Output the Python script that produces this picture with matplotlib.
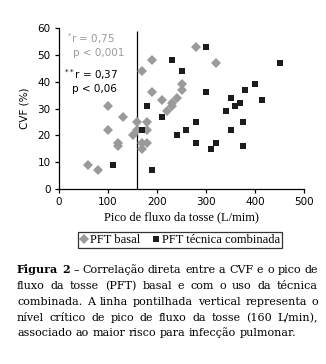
import matplotlib
matplotlib.use("Agg")
import matplotlib.pyplot as plt
from matplotlib.lines import Line2D
from matplotlib.font_manager import FontProperties

# Peak cough flow (L/min) vs. FVC (%)
pft_basal_x = [60, 80, 100, 100, 120, 120, 130, 150, 160, 160, 170, 170, 180, 180, 180,
               170, 190, 190, 210, 220, 230, 230, 240, 250, 250, 280, 320]
pft_basal_y = [9, 7, 31, 22, 17, 16, 27, 20, 25, 22, 17, 15, 22, 25, 17,
               44, 48, 36, 33, 29, 31, 32, 34, 37, 39, 53, 47]

pft_comb_x = [110, 180, 170, 190, 210, 230, 250, 240, 260, 280, 280, 300, 300, 310,
              320, 340, 350, 350, 360, 370, 380, 380, 375, 375, 400, 415, 450]
pft_comb_y = [9, 31, 22, 7, 27, 48, 44, 20, 22, 25, 17, 53, 36, 15,
              17, 29, 34, 22, 31, 32, 37, 37, 25, 16, 39, 33, 47]

x_ticks = [0, 100, 200, 300, 400, 500]
y_ticks = [0, 10, 20, 30, 40, 50, 60]
critical_pft = 160

legend_labels = ["PFT basal", "PFT técnica combinada"]
x_label = "Pico de fluxo da tosse (L/mim)"
y_label = "CVF (%)"

caption_lines = [
    "Figura 2 – Correlação direta entre a CVF e o pico de",
    "fluxo da tosse (PFT) basal e com o uso da técnica",
    "combinada. A linha pontilhada vertical representa o",
    "nível crítico de pico de fluxo da tosse (160 L/min),",
    "associado ao maior risco para infecção pulmonar.",
]

GRAY = "#9a9a9a"
DARK = "#1c1c1c"
SANS = "DejaVu Sans"
SERIF = "Liberation Serif"
CAP_FONT = "DejaVu Serif"
CAP_SIZE = 8.0

W, H = 326, 364
fig = plt.figure(figsize=(W / 100, H / 100), dpi=100)
ax = fig.add_axes([59 / W, 1 - 189 / H, 245 / W, 161 / H])

ax.plot(pft_basal_x, pft_basal_y, linestyle="none", marker="D", ms=5.2,
        color=GRAY, markeredgewidth=0, clip_on=False, zorder=3)
ax.plot(pft_comb_x, pft_comb_y, linestyle="none", marker="s", ms=4.0,
        color=DARK, markeredgewidth=0, clip_on=False, zorder=3)

ax.vlines(critical_pft, 0, 59, color="black", lw=0.9, zorder=2)

ax.set_xlim(0, 500)
ax.set_ylim(0, 60)
ax.set_xticks(x_ticks)
ax.set_yticks(y_ticks)
for s in ("top", "right"):
    ax.spines[s].set_visible(False)
for s in ("left", "bottom"):
    ax.spines[s].set_linewidth(0.9)
ax.tick_params(axis="both", direction="out", length=3, width=0.9,
               labelsize=7.5, colors="black")
ax.tick_params(axis="y", pad=3)
ax.tick_params(axis="x", pad=3)
for lab in ax.get_xticklabels() + ax.get_yticklabels():
    lab.set_family(SANS)

ax.set_xlabel(x_label, family=SERIF, fontsize=9, labelpad=3)
ax.set_ylabel(y_label, family=SANS, fontsize=7.5, labelpad=6)

# correlation annotations
ax.text(17, 56, r"$^{*}$r = 0,75", color=GRAY, fontsize=7.5, family=SANS, va="center")
ax.text(28, 50.6, "p < 0,001", color=GRAY, fontsize=7.5, family=SANS, va="center")
ax.text(9.5, 42.8, r"$^{**}$r = 0,37", color="black", fontsize=7.5, family=SANS, va="center")
ax.text(26.5, 37.3, "p < 0,06", color="black", fontsize=7.5, family=SANS, va="center")

handles = [
    Line2D([], [], linestyle="none", marker="D", ms=5.2, color=GRAY, markeredgewidth=0),
    Line2D([], [], linestyle="none", marker="s", ms=4.0, color=DARK, markeredgewidth=0),
]
leg = fig.legend(handles, legend_labels, loc="center", ncol=2,
                 bbox_to_anchor=(180 / W, 1 - 240 / H), frameon=True, fancybox=False,
                 edgecolor="black", prop={"family": SERIF, "size": 9},
                 handlelength=0.6, handletextpad=0.15, columnspacing=1.0,
                 borderpad=0.15, borderaxespad=0)
leg.get_frame().set_linewidth(0.9)

# justified caption, placed word by word
renderer = fig.canvas.get_renderer()
left_px, right_px = 17, 318
baselines = [273, 289, 305, 321, 336]
regular = FontProperties(family=CAP_FONT, size=CAP_SIZE)
bold = FontProperties(family=CAP_FONT, size=CAP_SIZE, weight="bold")


def text_width(s, prop):
    return renderer.get_text_width_height_descent(s, prop, ismath=False)[0]


space_w = text_width("a a", regular) - text_width("aa", regular)

for i, line in enumerate(caption_lines):
    words = line.split(" ")
    props = [bold if (i == 0 and j < 2) else regular for j in range(len(words))]
    widths = [text_width(w, p) for w, p in zip(words, props)]
    if i == len(caption_lines) - 1:
        gap = space_w
    else:
        gap = (right_px - left_px - sum(widths)) / (len(words) - 1)
    x = left_px
    for w, p, wd in zip(words, props, widths):
        fig.text(x / W, 1 - baselines[i] / H, w, fontproperties=p,
                 va="baseline", ha="left")
        x += wd + gap

fig.savefig("out.png", dpi=100)
